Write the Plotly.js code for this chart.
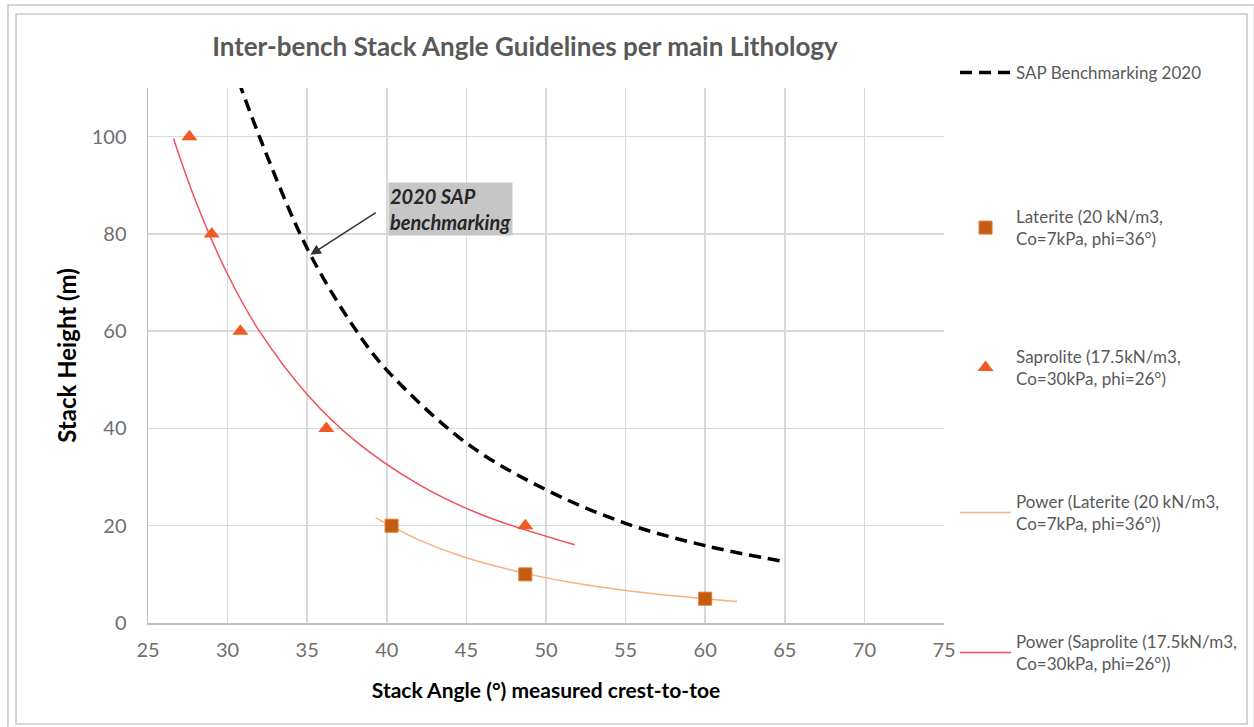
<!DOCTYPE html>
<html>
<head>
<meta charset="utf-8">
<script src="https://cdn.plot.ly/plotly-3.0.1.min.js"></script>
<style>html,body{margin:0;padding:0;background:#fff;}#chart{width:1254px;height:727px;}</style>
</head>
<body>
<div id="chart"></div>
<script>
// Values
const lateriteX = [40.3, 48.7, 60.0];
const lateriteY = [20, 10, 5];
const saproliteX = [27.6, 29.0, 30.8, 36.2, 48.7];
const saproliteY = [100, 80, 60, 40, 20];
const sapBenchX = [30.3, 32, 35, 38, 40, 45, 50, 55, 60, 65];
const sapBenchY = [115, 100, 77, 60.5, 52, 37, 27.4, 20.5, 15.9, 12.6];
const powerLatX = [39.3, 42, 45, 48.7, 52, 55, 58, 62];
const powerLatY = [21.6, 17.1, 13.4, 10.2, 8.1, 6.7, 5.6, 4.4];
const powerSapX = [26.6, 28, 30, 32, 35, 38, 42, 46, 51.8];
const powerSapY = [99.6, 86.7, 71.7, 60.0, 47.0, 37.5, 28.5, 22.2, 16.1];

const names = {
  bench: 'SAP Benchmarking 2020',
  lat: 'Laterite (20 kN/m3,<br>Co=7kPa, phi=36°)',
  sap: 'Saprolite (17.5kN/m3,<br>Co=30kPa, phi=26°)',
  pLat: 'Power (Laterite (20 kN/m3,<br>Co=7kPa, phi=36°))',
  pSap: 'Power (Saprolite (17.5kN/m3,<br>Co=30kPa, phi=26°))'
};
const xTicks = [25, 30, 35, 40, 45, 50, 55, 60, 65, 70, 75];
const yTicks = [0, 20, 40, 60, 80, 100];

const FONT = 'Lato, "Open Sans", sans-serif';
const GRAY = '#595959';

const traces = [
  {x: sapBenchX, y: sapBenchY, name: names.bench, mode: 'lines', type: 'scatter',
   line: {color: '#000000', width: 3.5, dash: '12px,7px', shape: 'spline'}, legend: 'legend'},
  {x: lateriteX, y: lateriteY, name: names.lat, mode: 'markers', type: 'scatter',
   marker: {symbol: 'square', size: 13, color: '#c55a11', line: {color: '#e07a30', width: 1}}, legend: 'legend2'},
  {x: saproliteX, y: saproliteY, name: names.sap, mode: 'markers', type: 'scatter',
   marker: {symbol: 'triangle-up', size: 14, color: '#f05a24'}, legend: 'legend3'},
  {x: powerLatX, y: powerLatY, name: names.pLat, mode: 'lines', type: 'scatter',
   line: {color: '#f4b183', width: 1.5, shape: 'spline'}, legend: 'legend4'},
  {x: powerSapX, y: powerSapY, name: names.pSap, mode: 'lines', type: 'scatter',
   line: {color: '#f0505c', width: 1.5, shape: 'spline'}, legend: 'legend5'}
];
// draw the curves under the markers
const order = [0, 3, 4, 1, 2];
const data = order.map(i => traces[i]);

function leg(yc) {
  return {xref: 'container', yref: 'container', x: 0.7616, xanchor: 'left', y: yc, yanchor: 'middle',
          bgcolor: 'rgba(0,0,0,0)', itemwidth: 51, borderwidth: 0,
          font: {family: FONT, size: 17, color: GRAY}};
}

const layout = {
  width: 1254, height: 727,
  showlegend: true,
  paper_bgcolor: '#ffffff', plot_bgcolor: '#ffffff',
  margin: {l: 148, r: 310, t: 88, b: 104},
  font: {family: FONT, color: GRAY},
  title: {text: 'Inter-bench Stack Angle Guidelines per main Lithology',
          font: {family: FONT, size: 26, color: GRAY, weight: 'bold'},
          xref: 'paper', x: 0.4736, xanchor: 'center', yref: 'container', y: 0.935, yanchor: 'middle'},
  xaxis: {range: [25, 75], tickvals: xTicks, ticktext: xTicks.map(String),
          showgrid: true, gridcolor: '#d9d9d9', gridwidth: 1.5,
          zeroline: false, showline: true, linecolor: '#bfbfbf', linewidth: 1.5,
          ticks: 'outside', ticklen: 8, tickcolor: 'rgba(0,0,0,0)',
          tickfont: {family: FONT, size: 20, color: '#6f6f6f'},
          title: {text: 'Stack Angle (°) measured crest-to-toe', standoff: 24,
                  font: {family: FONT, size: 21, color: '#000000', weight: 'bold'}}},
  yaxis: {range: [0, 110], tickvals: yTicks, ticktext: yTicks.map(String),
          showgrid: true, gridcolor: '#d9d9d9', gridwidth: 1.5,
          zeroline: false, showline: true, linecolor: '#bfbfbf', linewidth: 1.5,
          ticks: 'outside', ticklen: 16, tickcolor: 'rgba(0,0,0,0)',
          tickfont: {family: FONT, size: 20, color: '#6f6f6f'},
          title: {text: 'Stack Height (m)', standoff: 8,
                  font: {family: FONT, size: 24, color: '#000000', weight: 'bold'}}},
  legend: leg(1 - 73 / 727),
  legend2: leg(1 - 228 / 727),
  legend3: leg(1 - 368 / 727),
  legend4: leg(1 - 513 / 727),
  legend5: leg(1 - 653 / 727),
  shapes: [
    {type: 'rect', xref: 'paper', yref: 'paper', x0: -0.1759, x1: 1.3900, y0: -0.2100, y1: 1.1551,
     line: {color: '#c8c8c8', width: 1.5}, fillcolor: 'rgba(0,0,0,0)', layer: 'below'},
    {type: 'rect', xref: 'paper', yref: 'paper', x0: -0.1658, x1: 1.3807, y0: -0.1888, y1: 1.1383,
     line: {color: '#c8c8c8', width: 1.5}, fillcolor: 'rgba(0,0,0,0)', layer: 'below'}
  ],
  annotations: [
    {x: 40.1, y: 85.2, xref: 'x', yref: 'y', xanchor: 'left', yanchor: 'middle', align: 'left',
     text: '<b><i>2020 SAP<br>benchmarking</i></b>', showarrow: false,
     bgcolor: '#c6c6c6', borderpad: 1,
     font: {family: FONT, size: 20, color: '#262626'}},
    {x: 35.2, y: 75.7, ax: 39.4, ay: 84.6, xref: 'x', yref: 'y', axref: 'x', ayref: 'y',
     text: '', showarrow: true, arrowhead: 2, arrowsize: 1.4, arrowwidth: 1.5, arrowcolor: '#333333', standoff: 0}
  ]
};

Plotly.newPlot('chart', data, layout, {displayModeBar: false, staticPlot: true});
</script>
</body>
</html>
